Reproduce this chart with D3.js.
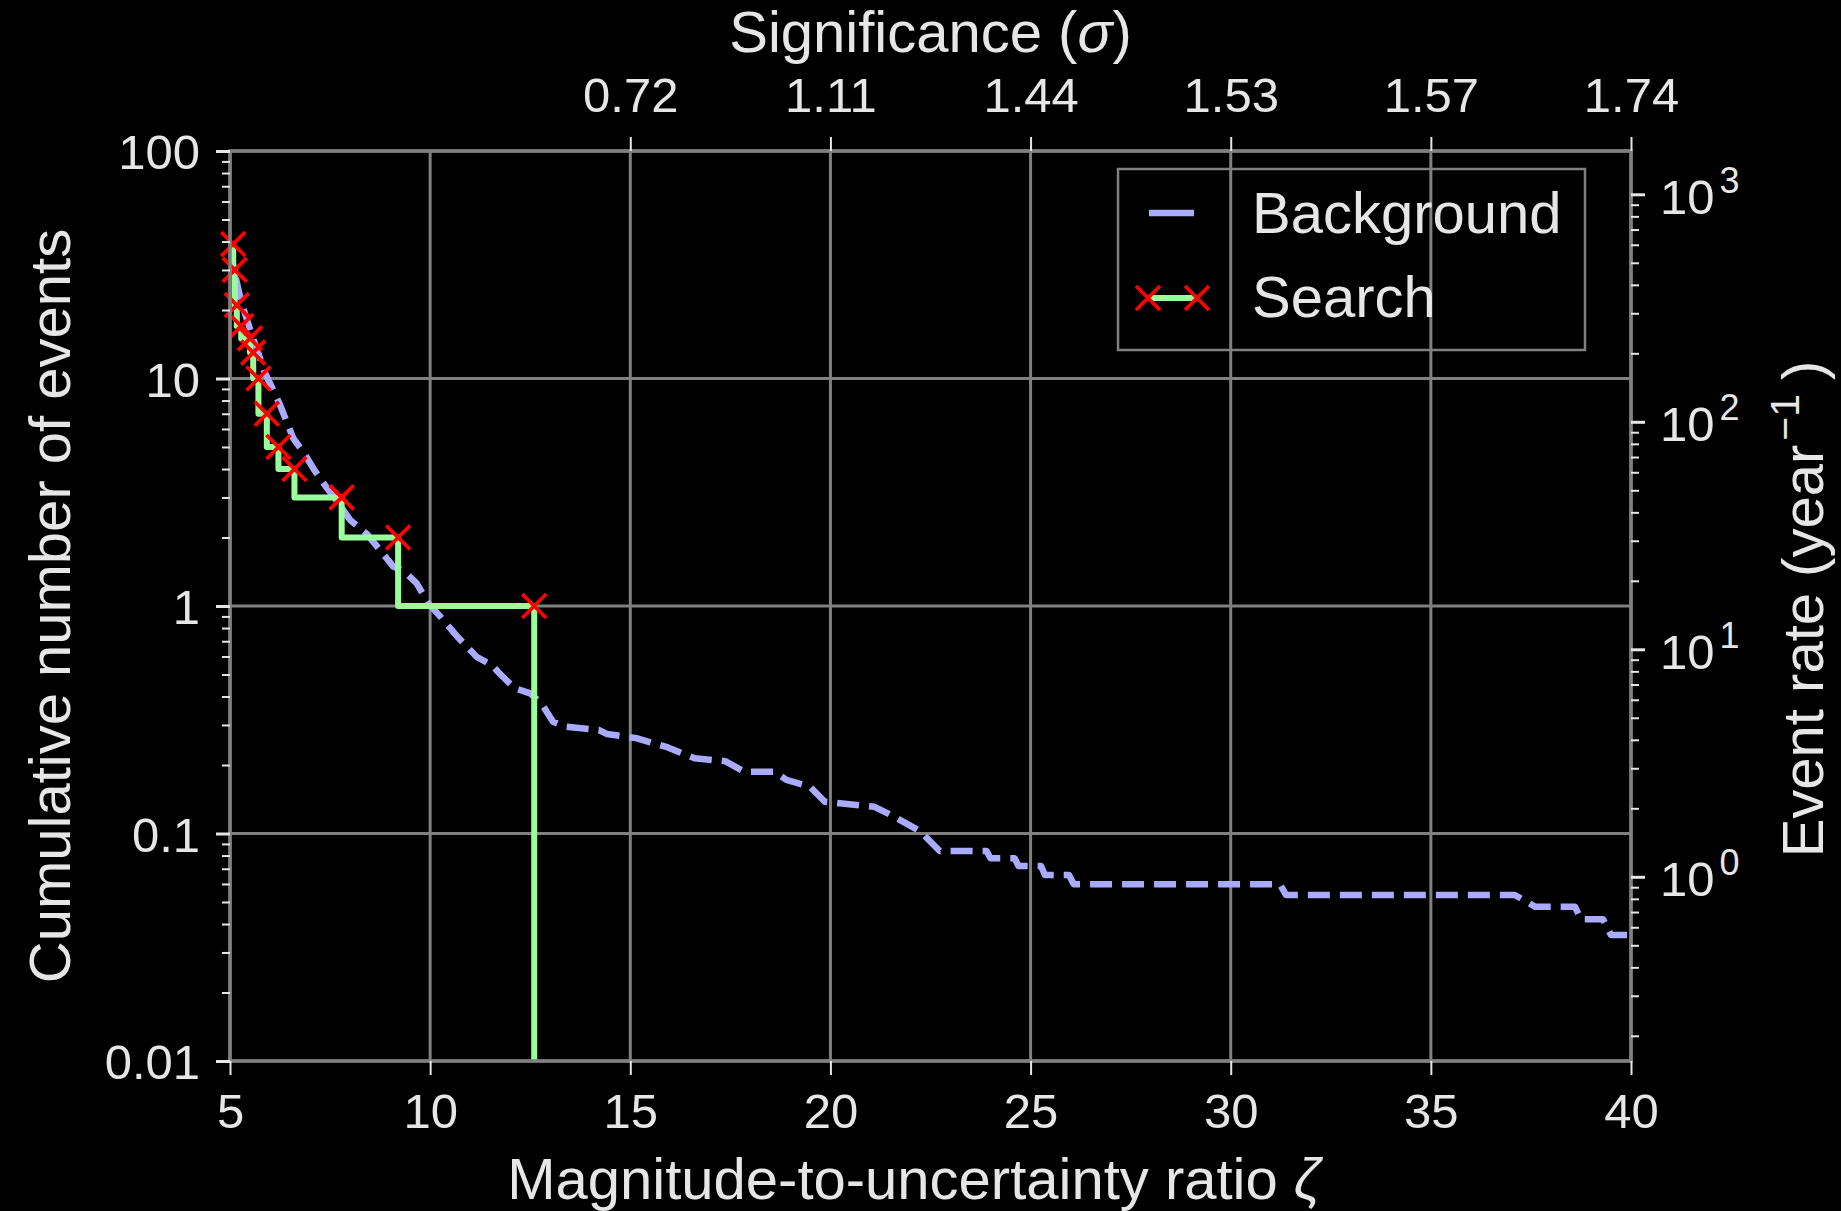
<!DOCTYPE html>
<html>
<head>
<meta charset="utf-8">
<script src="https://cdn.jsdelivr.net/npm/d3@7"></script>
<style>
  html, body { margin: 0; padding: 0; background: #000; }
  svg { display: block; font-family: 'Liberation Sans', Arial, Helvetica, sans-serif; }
</style>
</head>
<body>
<svg id="chart" width="1841" height="1211"></svg>
<script>
// axes
const zetaTicks = [5, 10, 15, 20, 25, 30, 35, 40]
const countTicks = [0.01, 0.1, 1, 10, 100]
const countTickLabels = ['0.01', '0.1', '1', '10', '100']
const sigmaTicks = [15, 20, 25, 30, 35, 40]
const sigmaLabels = ['0.72', '1.11', '1.44', '1.53', '1.57', '1.74']
const rateTicks = [1, 10, 100, 1000]
const rateExponents = ['0', '1', '2', '3']
const ratePerCount = 15.5

// background (dashed)
const bgZeta = [5.0, 5.1, 5.25, 5.37, 5.55, 5.71, 5.85, 6.04, 6.25, 6.58, 6.85, 7.08, 7.4, 7.7, 8.0, 8.41,
  8.75, 9.08, 9.35, 9.66, 9.95, 10.25, 10.68, 11.16, 11.54, 11.73, 12.11, 12.5, 12.78, 13.07, 13.36,
  14.22, 14.41, 15.17, 15.46, 15.94, 16.61, 17.37, 17.85, 18.6, 18.9, 19.48, 19.86, 21.1, 21.58, 22.25,
  22.73, 23.9, 24.0, 24.6, 24.7, 25.26, 25.36, 25.96, 26.08, 31.23, 31.38, 37.1, 37.6, 38.6, 38.75,
  39.3, 39.5, 39.9]
const bgCount = [38, 30, 23, 19.4, 15.5, 12.9, 10.8, 9.2, 7.65, 5.46, 4.7, 4.03, 3.34, 2.85, 2.39, 2.08,
  1.76, 1.49, 1.42, 1.26, 1.03, 0.9, 0.733, 0.598, 0.55, 0.506, 0.435, 0.413, 0.373, 0.31, 0.295,
  0.285, 0.274, 0.262, 0.253, 0.239, 0.214, 0.208, 0.187, 0.187, 0.172, 0.161, 0.138, 0.131, 0.119, 0.102,
  0.0838, 0.0838, 0.0778, 0.0778, 0.072, 0.072, 0.0657, 0.0657, 0.0598, 0.0598, 0.0537, 0.0537, 0.0477, 0.0477, 0.042,
  0.042, 0.0358, 0.0358]

// search (step + markers)
const searchZeta = [5.08, 5.12, 5.17, 5.28, 5.5, 5.58, 5.71, 5.92, 6.21, 6.61, 7.79, 9.2, 12.6, 12.6]
const searchCount = [39, 30, 21, 17, 15, 13, 10, 7, 5, 4, 3, 2, 1, 0]

const textColor = '#e6e6e6'
const gridColor = '#808080'
const m = { left: 230, right: 1631, top: 151, bottom: 1061 }

const svg = d3.select('#chart')
svg.append('rect').attr('width', 1841).attr('height', 1211).attr('fill', '#000')

const x = d3.scaleLinear().domain([5, 40]).range([m.left, m.right])
const y = d3.scaleLog().domain([0.01, 100]).range([m.bottom, m.top])
const rate = d3.scaleLog().domain([0.01 * ratePerCount, 100 * ratePerCount]).range([m.bottom, m.top])

const isPow10 = v => Math.abs(Math.log10(v) - Math.round(Math.log10(v))) < 1e-6

svg.append('defs').append('clipPath').attr('id', 'plot-clip')
  .append('rect')
  .attr('x', m.left).attr('y', m.top)
  .attr('width', m.right - m.left).attr('height', m.bottom - m.top)

// grid
const grid = svg.append('g').attr('stroke', gridColor).attr('stroke-width', 3)
grid.selectAll('.vgrid').data(zetaTicks).enter().append('line')
  .attr('x1', d => x(d)).attr('x2', d => x(d))
  .attr('y1', m.top).attr('y2', m.bottom)
grid.selectAll('.hgrid').data(countTicks).enter().append('line')
  .attr('x1', m.left).attr('x2', m.right)
  .attr('y1', d => y(d)).attr('y2', d => y(d))

// legend frame (no fill, grid shows through)
const lg = svg.append('g')
lg.append('rect')
  .attr('x', 1118).attr('y', 169).attr('width', 467).attr('height', 181)
  .attr('fill', 'none').attr('stroke', gridColor).attr('stroke-width', 2.5)

// curves
const plot = svg.append('g').attr('clip-path', 'url(#plot-clip)')
const bgData = bgZeta.map((z, i) => ({ z, n: bgCount[i] }))
const searchData = searchZeta.map((z, i) => ({ z, n: searchCount[i] }))

plot.append('path')
  .datum(bgData)
  .attr('fill', 'none')
  .attr('stroke', '#aaaaff')
  .attr('stroke-width', 6.5)
  .attr('stroke-dasharray', '22,10')
  .attr('stroke-linejoin', 'round')
  .attr('d', d3.line().x(d => x(d.z)).y(d => y(d.n)))

plot.append('path')
  .datum(searchData)
  .attr('fill', 'none')
  .attr('stroke', '#99ff99')
  .attr('stroke-width', 6)
  .attr('stroke-linejoin', 'round')
  .attr('d', d3.line().curve(d3.curveStepBefore).x(d => x(d.z)).y(d => y(Math.max(d.n, 1e-4))))

const cross = 'M-12,-12L12,12M-12,12L12,-12'
svg.append('g').selectAll('path')
  .data(searchData.filter(d => d.n > 0))
  .enter().append('path')
  .attr('d', cross)
  .attr('transform', d => `translate(${x(d.z)},${y(d.n)})`)
  .attr('fill', 'none')
  .attr('stroke', '#ff0000')
  .attr('stroke-width', 3.8)

// spines
svg.append('rect')
  .attr('x', m.left).attr('y', m.top)
  .attr('width', m.right - m.left).attr('height', m.bottom - m.top)
  .attr('fill', 'none').attr('stroke', gridColor).attr('stroke-width', 3.5)

function styleAxis(g, width) {
  g.select('.domain').remove()
  g.selectAll('line').attr('stroke', textColor).attr('stroke-width', width)
  g.selectAll('text').attr('fill', textColor).attr('font-size', 49).attr('font-family', null)
}

// bottom axis
svg.append('g')
  .attr('transform', `translate(0,${m.bottom})`)
  .call(d3.axisBottom(x).tickValues(zetaTicks).tickFormat(d3.format('d')).tickSize(14).tickPadding(18))
  .call(g => styleAxis(g, 2))

// top axis (significance)
svg.append('g')
  .attr('transform', `translate(0,${m.top})`)
  .call(d3.axisTop(x).tickValues(sigmaTicks).tickFormat((d, i) => sigmaLabels[i]).tickSize(14).tickPadding(25))
  .call(g => styleAxis(g, 2))

// left axis
svg.append('g')
  .attr('transform', `translate(${m.left},0)`)
  .call(d3.axisLeft(y).tickValues(y.ticks().filter(v => !isPow10(v))).tickFormat('').tickSize(8))
  .call(g => styleAxis(g, 2))
svg.append('g')
  .attr('transform', `translate(${m.left},0)`)
  .call(d3.axisLeft(y).tickValues(countTicks).tickFormat((d, i) => countTickLabels[i]).tickSize(14).tickPadding(16))
  .call(g => styleAxis(g, 3))
  .call(g => g.selectAll('text').attr('dy', '0.36em'))

// right axis (event rate)
svg.append('g')
  .attr('transform', `translate(${m.right},0)`)
  .call(d3.axisRight(rate).tickValues(rate.ticks().filter(v => !isPow10(v))).tickFormat('').tickSize(8))
  .call(g => styleAxis(g, 2))
const rightMajor = svg.append('g')
  .attr('transform', `translate(${m.right},0)`)
  .call(d3.axisRight(rate).tickValues(rateTicks).tickFormat('').tickSize(14).tickPadding(15))
  .call(g => styleAxis(g, 3))
rightMajor.selectAll('text')
  .attr('dy', null)
  .attr('y', 19)
  .each(function (d, i) {
    const t = d3.select(this)
    t.append('tspan').text('10')
    t.append('tspan').attr('dx', 5).attr('dy', -21).attr('font-size', 36).text(rateExponents[i])
  })

// axis titles
svg.append('text')
  .attr('x', 914).attr('y', 1199)
  .attr('text-anchor', 'middle').attr('font-size', 58).attr('fill', textColor)
  .call(t => {
    t.append('tspan').text('Magnitude-to-uncertainty ratio ')
    t.append('tspan').attr('font-style', 'italic').text('ζ')
  })

svg.append('text')
  .attr('x', (m.left + m.right) / 2).attr('y', 52)
  .attr('text-anchor', 'middle').attr('font-size', 58).attr('fill', textColor)
  .call(t => {
    t.append('tspan').text('Significance (')
    t.append('tspan').attr('font-style', 'italic').text('σ')
    t.append('tspan').text(')')
  })

svg.append('text')
  .attr('transform', `translate(70,${(m.top + m.bottom) / 2}) rotate(-90)`)
  .attr('text-anchor', 'middle').attr('font-size', 58).attr('fill', textColor)
  .text('Cumulative number of events')

svg.append('text')
  .attr('transform', `translate(1823,609) rotate(-90)`)
  .attr('text-anchor', 'middle').attr('font-size', 58).attr('fill', textColor)
  .call(t => {
    t.append('tspan').text('Event rate (year')
    t.append('tspan').attr('dx', 4).attr('dy', -24).attr('font-size', 41).text('−1')
    t.append('tspan').attr('dx', 14).attr('dy', 24).text(')')
  })

// legend entries
lg.append('line')
  .attr('x1', 1149).attr('x2', 1194).attr('y1', 213).attr('y2', 213)
  .attr('stroke', '#aaaaff').attr('stroke-width', 6.5)
lg.append('line')
  .attr('x1', 1148).attr('x2', 1197).attr('y1', 298).attr('y2', 298)
  .attr('stroke', '#99ff99').attr('stroke-width', 6)
lg.selectAll('.lgx').data([1148, 1197]).enter().append('path')
  .attr('d', cross)
  .attr('transform', d => `translate(${d},298)`)
  .attr('fill', 'none').attr('stroke', '#ff0000').attr('stroke-width', 3.8)
lg.selectAll('text').data(['Background', 'Search']).enter().append('text')
  .attr('x', 1252)
  .attr('y', (d, i) => 233 + i * 84)
  .attr('font-size', 58).attr('fill', textColor)
  .text(d => d)
</script>
</body>
</html>
